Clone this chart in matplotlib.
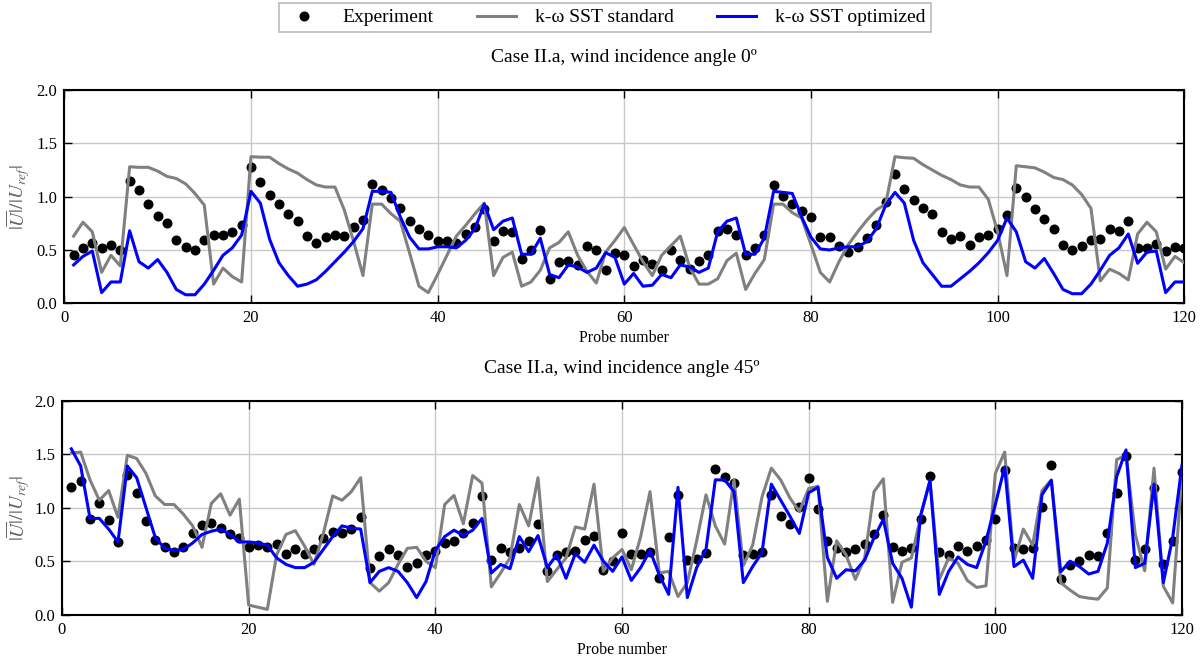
import numpy as np
import matplotlib
matplotlib.use("Agg")
import matplotlib.pyplot as plt
from matplotlib.lines import Line2D

probes = np.arange(1, 121)

# ---- Case II.a, 0 deg ----
exp0 = [0.45, 0.52, 0.57, 0.52, 0.55, 0.50, 1.15, 1.06, 0.93, 0.82,
        0.75, 0.59, 0.53, 0.50, 0.59, 0.64, 0.64, 0.67, 0.73, 1.28,
        1.14, 1.02, 0.93, 0.84, 0.775, 0.63, 0.57, 0.62, 0.64, 0.63,
        0.72, 0.78, 1.12, 1.06, 0.99, 0.89, 0.775, 0.70, 0.64, 0.58,
        0.58, 0.57, 0.65, 0.72, 0.88, 0.58, 0.68, 0.67, 0.42, 0.50,
        0.69, 0.225, 0.39, 0.40, 0.36, 0.54, 0.50, 0.31, 0.47, 0.45,
        0.35, 0.41, 0.37, 0.31, 0.50, 0.41, 0.32, 0.40, 0.45, 0.68,
        0.70, 0.64, 0.45, 0.52, 0.64, 1.11, 1.01, 0.93, 0.87, 0.81,
        0.625, 0.62, 0.54, 0.48, 0.53, 0.61, 0.73, 0.95, 1.21, 1.075,
        0.97, 0.89, 0.84, 0.67, 0.60, 0.63, 0.55, 0.62, 0.64, 0.70,
        0.83, 1.08, 1.00, 0.88, 0.79, 0.70, 0.55, 0.50, 0.54, 0.59,
        0.60, 0.70, 0.68, 0.77, 0.52, 0.52, 0.56, 0.49, 0.525, 0.52]
std0 = [0.63, 0.76, 0.67, 0.29, 0.45, 0.35, 1.28, 1.275, 1.275, 1.24,
        1.19, 1.17, 1.12, 1.03, 0.92, 0.18, 0.33, 0.25, 0.20, 1.375,
        1.37, 1.37, 1.31, 1.26, 1.22, 1.16, 1.11, 1.09, 1.09, 0.875,
        0.58, 0.26, 0.93, 0.93, 0.84, 0.77, 0.47, 0.16, 0.10, 0.27,
        0.45, 0.63, 0.73, 0.84, 0.94, 0.26, 0.43, 0.48, 0.16, 0.20,
        0.31, 0.52, 0.57, 0.67, 0.45, 0.30, 0.19, 0.48, 0.59, 0.71,
        0.55, 0.39, 0.26, 0.45, 0.54, 0.63, 0.34, 0.18, 0.18, 0.23,
        0.40, 0.47, 0.13, 0.28, 0.41, 0.93, 0.93, 0.85, 0.80, 0.55,
        0.29, 0.20, 0.39, 0.55, 0.67, 0.78, 0.875, 0.93, 1.375, 1.365,
        1.36, 1.30, 1.25, 1.20, 1.16, 1.11, 1.09, 1.09, 0.975, 0.67,
        0.26, 1.29, 1.28, 1.27, 1.23, 1.18, 1.16, 1.11, 1.02, 0.89,
        0.21, 0.32, 0.28, 0.22, 0.65, 0.76, 0.67, 0.32, 0.44, 0.38]
opt0 = [0.36, 0.44, 0.49, 0.10, 0.20, 0.20, 0.68, 0.39, 0.33, 0.41,
        0.29, 0.13, 0.08, 0.08, 0.18, 0.31, 0.45, 0.52, 0.64, 1.05,
        0.94, 0.60, 0.38, 0.26, 0.16, 0.18, 0.22, 0.30, 0.39, 0.48,
        0.58, 0.70, 1.05, 1.05, 1.04, 0.81, 0.62, 0.51, 0.51, 0.53,
        0.53, 0.52, 0.59, 0.70, 0.93, 0.69, 0.77, 0.80, 0.46, 0.46,
        0.61, 0.27, 0.24, 0.36, 0.34, 0.29, 0.33, 0.475, 0.43, 0.18,
        0.28, 0.16, 0.17, 0.27, 0.24, 0.36, 0.34, 0.29, 0.33, 0.67,
        0.77, 0.80, 0.46, 0.46, 0.61, 1.05, 1.04, 1.03, 0.81, 0.62,
        0.51, 0.50, 0.52, 0.53, 0.53, 0.58, 0.70, 0.92, 1.04, 0.94,
        0.59, 0.38, 0.27, 0.16, 0.16, 0.23, 0.30, 0.38, 0.475, 0.59,
        0.80, 0.67, 0.39, 0.33, 0.42, 0.28, 0.13, 0.09, 0.09, 0.18,
        0.31, 0.45, 0.52, 0.65, 0.375, 0.48, 0.49, 0.10, 0.20, 0.20]

# ---- Case II.a, 45 deg ----
exp45 = [1.19, 1.25, 0.89, 1.04, 0.885, 0.68, 1.31, 1.14, 0.88, 0.70,
         0.63, 0.59, 0.63, 0.76, 0.84, 0.86, 0.81, 0.75, 0.72, 0.63,
         0.65, 0.63, 0.66, 0.57, 0.61, 0.57, 0.61, 0.72, 0.77, 0.76,
         0.80, 0.91, 0.44, 0.545, 0.61, 0.555, 0.45, 0.48, 0.555, 0.60,
         0.67, 0.685, 0.76, 0.86, 1.11, 0.51, 0.62, 0.59, 0.62, 0.69,
         0.85, 0.41, 0.56, 0.59, 0.60, 0.70, 0.74, 0.42, 0.50, 0.76,
         0.57, 0.57, 0.59, 0.34, 0.73, 1.12, 0.51, 0.52, 0.58, 1.365,
         1.29, 1.23, 0.555, 0.57, 0.59, 1.12, 0.92, 0.85, 1.01, 1.28,
         0.99, 0.685, 0.62, 0.59, 0.61, 0.66, 0.75, 0.93, 0.63, 0.60,
         0.62, 0.89, 1.30, 0.59, 0.555, 0.64, 0.60, 0.645, 0.70, 0.89,
         1.355, 0.62, 0.61, 0.62, 1.01, 1.40, 0.33, 0.46, 0.50, 0.555,
         0.545, 0.76, 1.14, 1.48, 0.51, 0.61, 1.18, 0.47, 0.69, 1.33]
std45 = [1.51, 1.52, 1.26, 1.07, 1.16, 0.91, 1.49, 1.46, 1.32, 1.11,
         1.03, 1.03, 0.94, 0.83, 0.63, 1.04, 1.13, 0.93, 1.08, 0.09,
         0.07, 0.05, 0.56, 0.75, 0.785, 0.64, 0.47, 0.76, 1.11, 1.07,
         1.15, 1.28, 0.30, 0.22, 0.30, 0.47, 0.62, 0.63, 0.50, 0.44,
         1.03, 1.115, 0.85, 1.30, 1.23, 0.26, 0.39, 0.53, 1.03, 0.83,
         1.28, 0.31, 0.42, 0.53, 0.82, 0.80, 1.22, 0.405, 0.53, 0.61,
         0.42, 0.73, 1.15, 0.39, 0.405, 0.17, 0.30, 0.69, 1.12, 0.83,
         0.66, 1.26, 0.46, 0.65, 1.10, 1.37, 1.26, 1.09, 0.965, 1.18,
         1.20, 0.125, 0.69, 0.56, 0.33, 0.53, 1.15, 1.27, 0.115, 0.49,
         0.53, 0.92, 1.25, 0.33, 0.53, 0.48, 0.32, 0.255, 0.27, 1.32,
         1.52, 0.50, 0.80, 0.65, 1.16, 1.26, 0.30, 0.23, 0.17, 0.155,
         0.145, 0.25, 1.45, 1.49, 0.75, 0.41, 1.37, 0.265, 0.11, 1.32]
opt45 = [1.55, 1.39, 0.90, 0.90, 0.80, 0.68, 1.39, 1.28, 1.00, 0.72,
         0.62, 0.60, 0.61, 0.67, 0.75, 0.78, 0.80, 0.75, 0.68, 0.68,
         0.67, 0.65, 0.53, 0.47, 0.44, 0.44, 0.49, 0.61, 0.73, 0.83,
         0.81, 0.80, 0.30, 0.405, 0.44, 0.405, 0.30, 0.16, 0.31, 0.60,
         0.73, 0.79, 0.74, 0.79, 0.90, 0.39, 0.47, 0.43, 0.73, 0.59,
         0.74, 0.44, 0.56, 0.34, 0.57, 0.49, 0.65, 0.50, 0.405, 0.54,
         0.32, 0.44, 0.60, 0.37, 0.19, 1.19, 0.16, 0.44, 0.61, 1.26,
         1.26, 1.15, 0.30, 0.45, 0.58, 1.22, 1.07, 0.92, 0.76, 1.14,
         1.19, 0.535, 0.34, 0.42, 0.41, 0.51, 0.72, 0.89, 0.48, 0.34,
         0.07, 0.93, 1.255, 0.19, 0.405, 0.54, 0.47, 0.44, 0.69, 1.03,
         1.38, 0.45, 0.51, 0.34, 1.12, 1.255, 0.40, 0.50, 0.45, 0.38,
         0.405, 0.67, 1.29, 1.54, 0.44, 0.48, 1.22, 0.30, 0.72, 1.40]

titles = ["Case II.a, wind incidence angle 0º", "Case II.a, wind incidence angle 45º"]
xticks = [0, 20, 40, 60, 80, 100, 120]
yticks = [0.0, 0.5, 1.0, 1.5, 2.0]
series_labels = ["Experiment", "k-ω SST standard", "k-ω SST optimized"]

plt.rcParams['font.family'] = ['Liberation Serif', 'DejaVu Serif']
plt.rcParams['mathtext.fontset'] = 'stix'

W, H = 1204, 662
fig = plt.figure(figsize=(W / 100, H / 100), dpi=100)

# axes boxes in pixels: left, right, top(y=2), bottom(y=0)
boxes = [(64.3, 1184.3, 90.0, 303.3), (62.0, 1182.0, 400.7, 614.7)]
data = [(exp0, std0, opt0), (exp45, std45, opt45)]
GRAY = '#808080'
BLUE = '#0000ff'

for i, ((l, r, t, b), (e, s, o)) in enumerate(zip(boxes, data)):
    ax = fig.add_axes([l / W, 1 - b / H, (r - l) / W, (b - t) / H])
    ax.plot(probes, e, 'o', color='black', markersize=6.2, zorder=3)
    ax.plot(probes, s, '-', color=GRAY, lw=2.2, zorder=4)
    ax.plot(probes, o, '-', color=BLUE, lw=2.2, zorder=5)
    ax.set_xlim(0, 120)
    ax.set_ylim(0, 2)
    ax.set_xticks(xticks)
    ax.set_yticks(yticks)
    ax.set_yticklabels([f"{v:.1f}" for v in yticks])
    ax.grid(True, color='#c8c8c8', lw=1.0, zorder=0)
    ax.set_axisbelow(True)
    ax.tick_params(direction='in', top=True, right=True, length=6, width=1,
                   labelsize=12, pad=5)
    for sp in ax.spines.values():
        sp.set_linewidth(1.5)
    cx = (l + r) / 2 / W
    fig.text(cx, 1 - (t - 32) / H, titles[i], ha='center', va='center', fontsize=14)
    fig.text(cx, 1 - (b + 35) / H, "Probe number", ha='center', va='center', fontsize=11.5)
    fig.text(18 / W, 1 - (t + b) / 2 / H, r"$|\overline{U}|/|U_{ref}|$", rotation=90,
             ha='center', va='center', fontsize=14, color='#666666')

handles = [Line2D([], [], ls='none', marker='o', color='black', markersize=6.2),
           Line2D([], [], color=GRAY, lw=2.2),
           Line2D([], [], color=BLUE, lw=2.2)]
leg = fig.legend(handles, series_labels, loc='upper center', ncol=3,
                 bbox_to_anchor=(605 / W, 1 - 3 / H), fontsize=14, frameon=True,
                 fancybox=False, edgecolor='#aaaaaa', columnspacing=2.2,
                 handlelength=2.0, borderpad=0.3, handletextpad=1.0,
                 borderaxespad=0.0)
leg.get_frame().set_linewidth(1.2)

fig.savefig("out.png", dpi=100)
